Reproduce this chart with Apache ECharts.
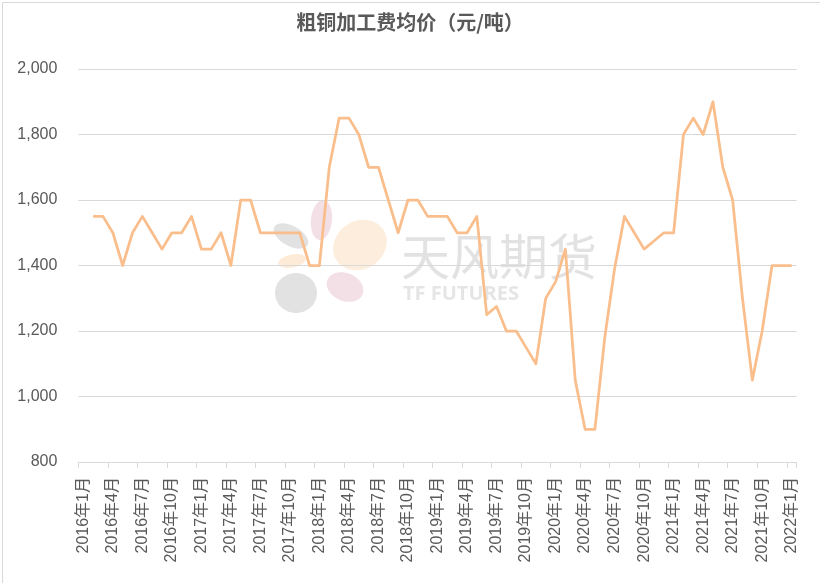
<!DOCTYPE html>
<html>
<head>
<meta charset="utf-8">
<script src="https://cdn.jsdelivr.net/npm/echarts@6/dist/echarts.min.js"></script>
<style>
html,body{margin:0;padding:0;background:#fff;}
#chart{width:820px;height:583px;}
</style>
</head>
<body>
<div id="chart"></div>
<script>
var chartTitle = '粗铜加工费均价（元/吨）';
var months = [
'2016年1月','2016年2月','2016年3月','2016年4月','2016年5月','2016年6月','2016年7月','2016年8月','2016年9月','2016年10月','2016年11月','2016年12月',
'2017年1月','2017年2月','2017年3月','2017年4月','2017年5月','2017年6月','2017年7月','2017年8月','2017年9月','2017年10月','2017年11月','2017年12月',
'2018年1月','2018年2月','2018年3月','2018年4月','2018年5月','2018年6月','2018年7月','2018年8月','2018年9月','2018年10月','2018年11月','2018年12月',
'2019年1月','2019年2月','2019年3月','2019年4月','2019年5月','2019年6月','2019年7月','2019年8月','2019年9月','2019年10月','2019年11月','2019年12月',
'2020年1月','2020年2月','2020年3月','2020年4月','2020年5月','2020年6月','2020年7月','2020年8月','2020年9月','2020年10月','2020年11月','2020年12月',
'2021年1月','2021年2月','2021年3月','2021年4月','2021年5月','2021年6月','2021年7月','2021年8月','2021年9月','2021年10月','2021年11月','2021年12月',
'2022年1月'
];
var fees = [
null,1550,1550,1500,1400,1500,1550,1500,1450,1500,1500,1550,
1450,1450,1500,1400,1600,1600,1500,1500,1500,1500,1500,1400,
1400,1700,1850,1850,1800,1700,1700,1600,1500,1600,1600,1550,
1550,1550,1500,1500,1550,1250,1275,1200,1200,1150,1100,1300,
1350,1450,1050,900,900,1180,1390,1550,1500,1450,1475,1500,
1500,1800,1850,1800,1900,1700,1600,1300,1050,1200,1400,1400,
1400
];
var yTicks = {min: 800, max: 2000, step: 200};

var chart = echarts.init(document.getElementById('chart'), null, {renderer: 'canvas'});
var labelColor = '#595959';
var fontFam = '"Liberation Sans", "Noto Sans CJK SC", sans-serif';

function commas(v){ return String(v).replace(/\B(?=(\d{3})+(?!\d))/g, ','); }

var option = {
  backgroundColor: '#ffffff',
  animation: false,
  title: {
    text: chartTitle,
    left: 'center',
    top: 7,
    textStyle: {fontSize: 20, fontWeight: 'bold', color: labelColor, fontFamily: '"Noto Sans CJK SC", sans-serif'}
  },
  grid: {left: 78.4, right: 23.4, top: 69, bottom: 121, containLabel: false, outerBoundsMode: 'none'},
  xAxis: {
    type: 'category',
    data: months,
    boundaryGap: true,
    axisLine: {show: true, lineStyle: {color: '#d9d9d9', width: 1}},
    axisTick: {show: true, interval: 2, length: 6, alignWithLabel: false, lineStyle: {color: '#d9d9d9'}},
    axisLabel: {interval: 2, rotate: 90, margin: 15, color: labelColor, fontSize: 16, fontFamily: fontFam},
    splitLine: {show: false}
  },
  yAxis: {
    type: 'value',
    min: yTicks.min, max: yTicks.max, interval: yTicks.step,
    axisLine: {show: false},
    axisTick: {show: false},
    axisLabel: {margin: 21, color: labelColor, fontSize: 16, fontFamily: fontFam, formatter: commas},
    splitLine: {show: true, lineStyle: {color: '#d9d9d9', width: 1}}
  },
  series: [{
    type: 'line',
    data: fees,
    symbol: 'none',
    connectNulls: false,
    lineStyle: {color: '#F9BE8C', width: 2.75, join: 'round'},
    z: 2
  }],
  graphic: [
    {type: 'rect', left: 0, top: 0, z: 100, silent: true,
     shape: {x: 0.5, y: 0.5, width: 819, height: 582},
     style: {fill: 'none', stroke: '#d9d9d9', lineWidth: 1}},
    {type: 'group', z: 50, silent: true, children: [
      {type: 'ellipse', shape: {cx: 291, cy: 236, rx: 19, ry: 10}, rotation: -0.5, originX: 291, originY: 236,
       style: {fill: 'rgba(150,150,150,0.28)'}},
      {type: 'ellipse', shape: {cx: 321.5, cy: 220, rx: 10.5, ry: 20}, rotation: -0.1, originX: 321.5, originY: 220,
       style: {fill: 'rgba(200,110,140,0.22)'}},
      {type: 'ellipse', shape: {cx: 360, cy: 245, rx: 28, ry: 24}, rotation: 0.6, originX: 360, originY: 245,
       style: {fill: 'rgba(250,195,140,0.3)'}},
      {type: 'ellipse', shape: {cx: 292, cy: 261, rx: 14, ry: 6.5}, rotation: 0.2, originX: 292, originY: 261,
       style: {fill: 'rgba(250,195,140,0.35)'}},
      {type: 'ellipse', shape: {cx: 296, cy: 293, rx: 21, ry: 20}, rotation: 0, originX: 296, originY: 293,
       style: {fill: 'rgba(150,150,150,0.28)'}},
      {type: 'ellipse', shape: {cx: 345, cy: 287, rx: 19, ry: 14}, rotation: -0.4, originX: 345, originY: 287,
       style: {fill: 'rgba(200,110,140,0.22)'}},
      {type: 'text', x: 401, y: 232, style: {text: '天风期货', fontSize: 49, fontFamily: '"Noto Sans CJK SC", sans-serif', fill: 'rgba(150,150,150,0.28)'}},
      {type: 'text', x: 403, y: 284, style: {text: 'TF FUTURES', fontSize: 20, fontWeight: 'bold', fontFamily: '"Open Sans", sans-serif', fill: 'rgba(150,150,150,0.25)'}}
    ]}
  ]
};
chart.setOption(option);
</script>
</body>
</html>
